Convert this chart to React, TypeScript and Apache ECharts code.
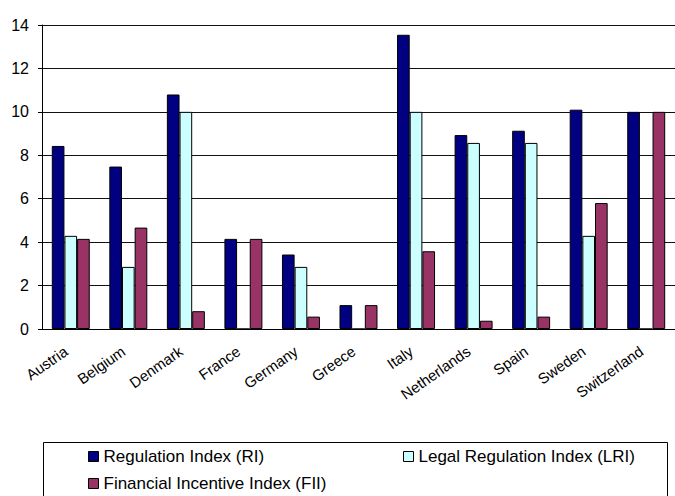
import React, { useEffect, useRef } from "react";
import * as echarts from "echarts";

const countries = [
  "Austria",
  "Belgium",
  "Denmark",
  "France",
  "Germany",
  "Greece",
  "Italy",
  "Netherlands",
  "Spain",
  "Sweden",
  "Switzerland",
];

const regulationIndex = [8.43, 7.48, 10.8, 4.15, 3.43, 1.1, 13.55, 8.93, 9.13, 10.1, 10.0];
const legalRegulationIndex = [4.29, 2.86, 10.0, 0, 2.86, 0, 10.0, 8.57, 8.57, 4.29, 0];
const financialIncentiveIndex = [4.15, 4.67, 0.82, 4.15, 0.57, 1.1, 3.58, 0.38, 0.57, 5.8, 10.0];

const yTicks = [0, 2, 4, 6, 8, 10, 12, 14];

const seriesNames = [
  "Regulation Index (RI)",
  "Legal Regulation Index (LRI)",
  "Financial Incentive Index (FII)",
];
const seriesColors = ["#000080", "#CCFFFF", "#993366"];

const FONT = "'Liberation Sans', Arial, sans-serif";

export default function App() {
  const ref = useRef<HTMLDivElement>(null);

  useEffect(() => {
    if (!ref.current) return;
    const chart = echarts.init(ref.current, undefined, { renderer: "svg" });
    const values = [regulationIndex, legalRegulationIndex, financialIncentiveIndex];

    const legendStyle = {
      orient: "horizontal" as const,
      icon: "rect",
      itemWidth: 10,
      itemHeight: 10,
      itemGap: 0,
      textStyle: { fontFamily: FONT, fontSize: 17, color: "#000" },
      itemStyle: { borderColor: "#000", borderWidth: 1 },
    };

    chart.setOption({
      animation: false,
      backgroundColor: "#fff",
      textStyle: { fontFamily: FONT },
      // plot area runs slightly past the right edge of the canvas
      grid: { left: 42, width: 637, top: 25, bottom: 167, containLabel: false },
      legend: [
        { ...legendStyle, data: [seriesNames[0]], left: 83, top: 443 },
        { ...legendStyle, data: [seriesNames[1]], left: 398, top: 443 },
        { ...legendStyle, data: [seriesNames[2]], left: 83, top: 470 },
      ],
      graphic: [
        {
          type: "rect",
          shape: { x: 43.5, y: 442.5, width: 624, height: 60 },
          style: { fill: "none", stroke: "#000", lineWidth: 1 },
          silent: true,
        },
      ],
      xAxis: {
        type: "category",
        data: countries,
        axisLine: { show: true, lineStyle: { color: "#000", width: 1 } },
        axisTick: { show: false },
        axisLabel: {
          rotate: 35,
          interval: 0,
          margin: 17,
          fontSize: 15,
          fontFamily: FONT,
          color: "#000",
          padding: [0, 6, 0, 0],
        },
      },
      yAxis: {
        type: "value",
        min: 0,
        max: yTicks[yTicks.length - 1],
        interval: 2,
        axisLine: { show: true, lineStyle: { color: "#000", width: 1 } },
        axisTick: { show: true, inside: false, length: 4, lineStyle: { color: "#000" } },
        axisLabel: {
          margin: 13,
          fontSize: 16,
          fontFamily: FONT,
          color: "#000",
        },
        splitLine: { show: true, lineStyle: { color: "#111", width: 1 } },
      },
      series: values.map((data, i) => ({
        name: seriesNames[i],
        type: "bar",
        data,
        barGap: "0%",
        barCategoryGap: "34%",
        itemStyle: {
          color: seriesColors[i],
          borderColor: "#000",
          borderWidth: 1,
        },
      })),
    });

    return () => chart.dispose();
  }, []);

  return (
    <div
      ref={ref}
      style={{ position: "absolute", left: 0, top: 0, width: 675, height: 496 }}
    />
  );
}
